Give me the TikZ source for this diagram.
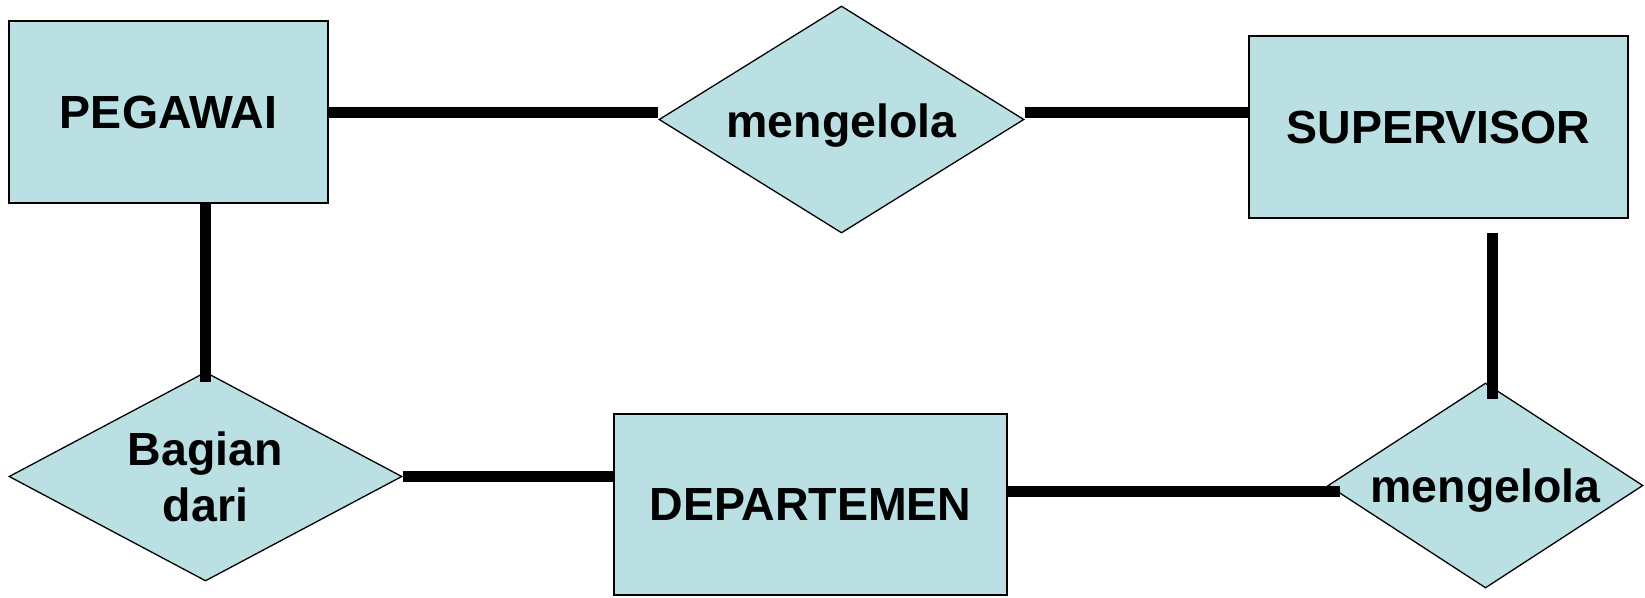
\documentclass[tikz,border=0pt]{standalone}
\usepackage{fontspec}
\setmainfont{Liberation Sans}
\usetikzlibrary{shapes.geometric}
\definecolor{erfill}{RGB}{186,224,227}
% relationship label set with its baseline a fixed distance below the node centre
\newcommand{\rellabel}[2]{\smash{\raisebox{-#1}{#2}}}
\begin{document}
\begin{tikzpicture}[x=1pt,y=-1pt,
  entity/.style={draw=black, fill=erfill, line width=1.6pt, rectangle, inner sep=0pt,
    font=\fontsize{46.5}{56}\selectfont\bfseries},
  relation/.style={draw=black, fill=erfill, line width=1.3pt, diamond, aspect=1.8, inner sep=0pt,
    align=center, font=\fontsize{46.5}{56}\selectfont\bfseries},
  link/.style={line width=11pt, black}]
\useasboundingbox (0,0) rectangle (1645,597);

% entities
\node[entity, minimum width=319pt, minimum height=182pt] (peg) at (168.5,112) {PEGAWAI};
\node[entity, minimum width=379pt, minimum height=182pt] (sup) at (1438.5,127) {SUPERVISOR};
\node[entity, minimum width=393pt, minimum height=181pt] (dep) at (810.5,504.5) {DEPARTEMEN};

% relationships
\node[relation, minimum width=365pt, minimum height=227pt] (mg1) at (841.5,119.5) {\rellabel{18pt}{mengelola}};
\node[relation, minimum width=393pt, minimum height=209pt] (bd) at (205.5,476.5) {Bagian\\dari};
\node[relation, minimum width=315pt, minimum height=205pt] (mg2) at (1485.5,485.5) {\rellabel{17pt}{mengelola}};

% free ends of connectors
\coordinate (c5) at (1340,491);
\coordinate (c6a) at (1492,233);
\coordinate (c6b) at (1492,399);

% connectors
\draw[link] (peg.east) -- (peg.east -| mg1.west);
\draw[link] (mg1.east |- peg.east) -- (sup.west |- peg.east);
\draw[link] (peg.south -| bd.north) -- ([yshift=-11pt]bd.north);
\draw[link] (bd.east) -- (bd.east -| dep.west);
\draw[link] (c5 -| dep.east) -- (c5);
\draw[link] (c6a) -- (c6b);
\end{tikzpicture}
\end{document}
